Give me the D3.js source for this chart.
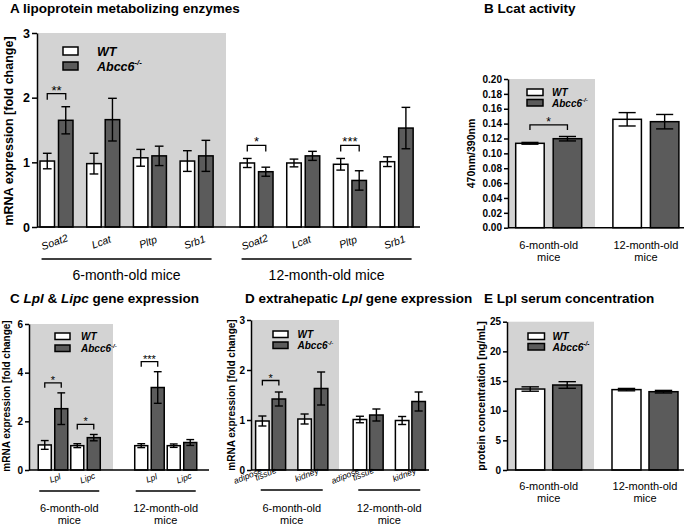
<!DOCTYPE html>
<html><head><meta charset="utf-8">
<script src="https://cdn.jsdelivr.net/npm/d3@7"></script>
<style>
body{margin:0;background:#fff;}
svg{display:block;font-family:"Liberation Sans",Arial,Helvetica,sans-serif;}
</style></head><body>
<svg id="c" width="685" height="526"></svg>
<script>
// ---------------- DATA ----------------
const seriesNames = ["WT", "Abcc6"];
const ages = ["6-month-old mice", "12-month-old mice"];
const ageLines = [["6-month-old", "mice"], ["12-month-old", "mice"]];

// Panel A: lipoprotein metabolizing enzymes (fold change)
const aGenes = ["Soat2", "Lcat", "Pltp", "Srb1"];
const aTicks = [0, 1, 2, 3];
const aWT6 = [1.02, 0.98, 1.07, 1.02];
const aWT6Err = [0.12, 0.16, 0.13, 0.16];
const aKO6 = [1.65, 1.66, 1.10, 1.10];
const aKO6Err = [0.21, 0.33, 0.15, 0.24];
const aWT12 = [0.99, 0.99, 0.97, 1.01];
const aWT12Err = [0.07, 0.06, 0.09, 0.075];
const aKO12 = [0.855, 1.10, 0.72, 1.53];
const aKO12Err = [0.07, 0.07, 0.15, 0.32];
const aSig = [{age: 0, gene: 0, label: "**"}, {age: 1, gene: 0, label: "*"}, {age: 1, gene: 2, label: "***"}];

// Panel B: Lcat activity (470nm/390nm)
const bGenes = ["Lcat"];
const bTicks = [0, 0.02, 0.04, 0.06, 0.08, 0.10, 0.12, 0.14, 0.16, 0.18, 0.20];
const bWT = [0.1135, 0.1458];
const bWTErr = [0.0012, 0.009];
const bKO = [0.1197, 0.1426];
const bKOErr = [0.003, 0.0097];
const bSig = [{age: 0, gene: 0, label: "*"}];

// Panel C: Lpl & Lipc gene expression
const cGenes = ["Lpl", "Lipc"];
const cTicks = [0, 2, 4, 6];
const cWT6 = [1.03, 1.00];
const cWT6Err = [0.18, 0.08];
const cKO6 = [2.52, 1.33];
const cKO6Err = [0.65, 0.13];
const cWT12 = [1.00, 1.00];
const cWT12Err = [0.08, 0.07];
const cKO12 = [3.39, 1.13];
const cKO12Err = [0.65, 0.12];
const cSig = [{age: 0, gene: 0, label: "*"}, {age: 0, gene: 1, label: "*"}, {age: 1, gene: 0, label: "***"}];

// Panel D: extrahepatic Lpl gene expression
const dGenes = ["adipose tissue", "kidney"];
const dTicks = [0, 1, 2, 3];
const dWT6 = [0.98, 1.02];
const dWT6Err = [0.10, 0.10];
const dKO6 = [1.42, 1.63];
const dKO6Err = [0.14, 0.33];
const dWT12 = [1.01, 0.99];
const dWT12Err = [0.065, 0.08];
const dKO12 = [1.10, 1.37];
const dKO12Err = [0.12, 0.19];
const dSig = [{age: 0, gene: 0, label: "*"}];

// Panel E: Lpl serum concentration (ng/mL)
const eGenes = ["Lpl"];
const eTicks = [0, 5, 10, 15, 20, 25];
const eWT = [13.65, 13.55];
const eWTErr = [0.37, 0.2];
const eKO = [14.33, 13.2];
const eKOErr = [0.56, 0.22];

// ---------------- DRAWING ----------------
const svg = d3.select("#c");
const BG = "#d3d3d3", KO_FILL = "#5b5b5b";

function drawPanel(p) {
  const g = svg.append("g");
  const y = d3.scaleLinear().domain(p.yDomain).range(p.yRange);
  const xAge = d3.scaleBand().domain(ages).range(p.ageRange).paddingInner(p.agePad);
  const xGene = d3.scaleBand().domain(p.genes).range([0, xAge.bandwidth()]);
  const sp = p.barW + p.gap;
  const xSer = d3.scaleBand().domain(seriesNames).range([0, xGene.bandwidth()])
    .paddingInner(p.gap / sp)
    .paddingOuter(((xGene.bandwidth() - 2 * p.barW - p.gap) / 2) / sp);

  // gray background for 6-month-old group
  g.append("rect").attr("x", p.axisX).attr("y", p.yRange[1])
    .attr("width", p.grayRight - p.axisX).attr("height", p.yRange[0] - p.yRange[1])
    .attr("fill", BG);

  const rows = [];
  ages.forEach((age, ai) => p.genes.forEach((gene, gi) => seriesNames.forEach((s, si) => {
    rows.push({ai, gi, si, age, gene, s, v: p.mean[si][ai][gi], e: p.err[si][ai][gi]});
  })));
  const bx = d => xAge(d.age) + xGene(d.gene) + xSer(d.s);
  const bw = xSer.bandwidth();
  const capW = bw * 0.6;

  g.selectAll("rect.bar").data(rows).join("rect").attr("class", "bar")
    .attr("x", bx).attr("width", bw)
    .attr("y", d => y(d.v)).attr("height", d => y(0) - y(d.v))
    .attr("fill", d => d.si === 0 ? "#ffffff" : KO_FILL)
    .attr("stroke", "#000").attr("stroke-width", 1.5);

  const eg = g.selectAll("g.err").data(rows).join("g").attr("class", "err")
    .attr("stroke", "#000").attr("stroke-width", 1.4);
  eg.append("line").attr("x1", d => bx(d) + bw / 2).attr("x2", d => bx(d) + bw / 2)
    .attr("y1", d => y(d.v + d.e)).attr("y2", d => y(d.v - d.e));
  eg.append("line").attr("x1", d => bx(d) + bw / 2 - capW / 2).attr("x2", d => bx(d) + bw / 2 + capW / 2)
    .attr("y1", d => y(d.v + d.e)).attr("y2", d => y(d.v + d.e));
  eg.append("line").attr("x1", d => bx(d) + bw / 2 - capW / 2).attr("x2", d => bx(d) + bw / 2 + capW / 2)
    .attr("y1", d => y(d.v - d.e)).attr("y2", d => y(d.v - d.e));

  // y axis
  const ax = g.append("g").attr("transform", `translate(${p.axisX},0)`)
    .call(d3.axisLeft(y).tickValues(p.ticks).tickFormat(p.fmt).tickSize(p.tickLen).tickSizeOuter(0).tickPadding(2));
  ax.select(".domain").attr("stroke-width", 1.5);
  ax.selectAll(".tick line").attr("stroke-width", 1.5);
  ax.selectAll(".tick text").attr("font-size", p.tickFont).attr("font-weight", "bold")
    .attr("fill", "#000").style("font-family", '"Liberation Sans",Arial,sans-serif');
  // x axis line
  g.append("line").attr("x1", p.axisX).attr("x2", p.axisEnd).attr("y1", y(0)).attr("y2", y(0))
    .attr("stroke", "#000").attr("stroke-width", 1.5);

  // y label
  g.append("text").attr("transform", `translate(${p.yLabel.x},${p.yLabel.y}) rotate(-90)`)
    .attr("text-anchor", "middle").attr("font-weight", "bold").attr("font-size", p.yLabel.size)
    .text(p.yLabel.text);

  // significance brackets
  (p.sig || []).forEach(s => {
    const wt = rows.find(r => r.ai === s.age && r.gi === s.gene && r.si === 0);
    const ko = rows.find(r => r.ai === s.age && r.gi === s.gene && r.si === 1);
    const yb = Math.min(y(wt.v + wt.e), y(ko.v + ko.e)) - p.sigOff;
    const x1 = bx(wt) + bw / 2, x2 = bx(ko) + bw / 2;
    g.append("path").attr("d", `M${x1},${yb + p.sigTick}V${yb}H${x2}V${yb + p.sigTick}`)
      .attr("fill", "none").attr("stroke", "#000").attr("stroke-width", 1.3);
    g.append("text").attr("x", (x1 + x2) / 2).attr("y", yb + 1).attr("text-anchor", "middle")
      .attr("font-size", p.sigFont).text(s.label);
  });

  // legend
  const L = p.legend;
  seriesNames.forEach((s, i) => {
    const yy = L.y + i * L.row;
    g.append("rect").attr("x", L.x).attr("y", yy).attr("width", L.w).attr("height", L.h)
      .attr("fill", i === 0 ? "#fff" : KO_FILL).attr("stroke", "#000").attr("stroke-width", 1.5);
    const t = g.append("text").attr("x", L.tx).attr("y", yy + L.h + 0.5)
      .attr("font-size", L.size).attr("font-weight", "bold").attr("font-style", "italic");
    if (i === 0) t.text(s);
    else {
      t.append("tspan").text(s);
      t.append("tspan").attr("font-size", L.size * 0.62).attr("dy", -L.size * 0.42).text("-/-");
    }
  });

  // gene labels
  if (p.geneLabel) {
    const GL = p.geneLabel;
    ages.forEach(age => p.genes.forEach(gene => {
      const cx = xAge(age) + xGene(gene) + xGene.bandwidth() / 2;
      if (GL.split && gene.includes(" ")) {
        const [w1, w2] = gene.split(" ");
        const gg = g.append("g").attr("transform", `translate(${cx + GL.splitDx},${GL.splitY}) rotate(${GL.rot})`)
          .attr("font-size", GL.size).attr("font-style", "italic").attr("fill", "#000");
        gg.append("text").attr("x", 0).attr("y", 0).text(w1);
        gg.append("text").attr("x", GL.w2dx).attr("y", GL.w2dy).text(w2);
      } else if (GL.split) {
        g.append("text").attr("transform", `translate(${cx + GL.dx},${GL.y}) rotate(${GL.rot})`)
          .attr("font-size", GL.size).attr("font-style", "italic").attr("fill", "#000").text(gene);
      } else {
        g.append("text").attr("transform", `translate(${cx + GL.dx},${GL.y}) rotate(${GL.rot})`)
          .attr("text-anchor", "middle").attr("dy", "0.35em").attr("fill", "#000")
          .attr("font-size", GL.size).attr("font-style", "italic").text(gene);
      }
    }));
  }

  // group labels
  const GR = p.group;
  ages.forEach((age, ai) => {
    const cx = xAge(age) + xAge.bandwidth() / 2;
    if (GR.uw) {
      g.append("line").attr("x1", cx - GR.uw / 2).attr("x2", cx + GR.uw / 2)
        .attr("y1", GR.uy).attr("y2", GR.uy).attr("stroke", "#000").attr("stroke-width", 1.5);
    }
    const lines = GR.oneLine ? [age] : ageLines[ai];
    lines.forEach((ln, li) => {
      g.append("text").attr("x", cx).attr("y", GR.ys[li]).attr("text-anchor", "middle")
        .attr("font-size", GR.size).text(ln);
    });
  });

  // title
  const T = g.append("text").attr("x", p.title.x).attr("y", p.title.y)
    .attr("font-size", 13.5).attr("font-weight", "bold");
  p.title.parts.forEach(([txt, it]) => {
    const ts = T.append("tspan").text(txt);
    if (it) ts.attr("font-style", "italic");
  });
}

// Panel A
drawPanel({
  genes: aGenes, yDomain: [0, 3], yRange: [227, 33], ticks: aTicks, fmt: d3.format("d"),
  tickFont: 12.5, tickLen: 5,
  axisX: 37, axisEnd: 420, grayRight: 226,
  ageRange: [33.15, 420], agePad: 0.066, barW: 14.5, gap: 4,
  mean: [[aWT6, aWT12], [aKO6, aKO12]], err: [[aWT6Err, aWT12Err], [aKO6Err, aKO12Err]],
  sig: aSig, sigOff: 13, sigTick: 6, sigFont: 13,
  yLabel: {x: 13, y: 131, size: 12.5, text: "mRNA expression [fold change]"},
  legend: {x: 63, y: 47, w: 15, h: 8, row: 15, tx: 97, size: 12.5},
  geneLabel: {dx: -2, y: 242, rot: -20, size: 10.5},
  group: {uw: 170, uy: 259, ys: [280], size: 14, oneLine: true},
  title: {x: 10, y: 13, parts: [["A lipoprotein metabolizing enzymes", false]]}
});

// Panel B
drawPanel({
  genes: bGenes, yDomain: [0, 0.2], yRange: [227.7, 79], ticks: bTicks, fmt: d3.format(".2f"),
  tickFont: 10, tickLen: 4,
  axisX: 508, axisEnd: 684, grayRight: 595,
  ageRange: [508.7, 685.9], agePad: 0.177, barW: 28.5, gap: 9,
  mean: [[[bWT[0]], [bWT[1]]], [[bKO[0]], [bKO[1]]]],
  err: [[[bWTErr[0]], [bWTErr[1]]], [[bKOErr[0]], [bKOErr[1]]]],
  sig: bSig, sigOff: 11.5, sigTick: 5, sigFont: 12,
  yLabel: {x: 475, y: 153.5, size: 10.5, text: "470nm/390nm"},
  legend: {x: 527, y: 89, w: 16, h: 6.5, row: 10.5, tx: 552, size: 10},
  group: {ys: [249, 261], size: 11},
  title: {x: 484, y: 13, parts: [["B Lcat activity", false]]}
});

// Panel C
drawPanel({
  genes: cGenes, yDomain: [0, 6], yRange: [470, 324], ticks: cTicks, fmt: d3.format("d"),
  tickFont: 10, tickLen: 4,
  axisX: 29, axisEnd: 209, grayRight: 113,
  ageRange: [36.75, 198.25], agePad: 0.326, barW: 13, gap: 3.5,
  mean: [[cWT6, cWT12], [cKO6, cKO12]], err: [[cWT6Err, cWT12Err], [cKO6Err, cKO12Err]],
  sig: cSig, sigOff: 10, sigTick: 5, sigFont: 11,
  yLabel: {x: 10, y: 396, size: 10, text: "mRNA expression [fold change]"},
  legend: {x: 55, y: 333, w: 15, h: 6.5, row: 12, tx: 81, size: 10},
  geneLabel: {dx: 2, y: 478, rot: -20, size: 8.5},
  group: {uw: 60, uy: 491, ys: [512, 524], size: 11},
  title: {x: 10, y: 303, parts: [["C ", false], ["Lpl", true], [" & ", false], ["Lipc", true], [" gene expression", false]]}
});

// Panel D
drawPanel({
  genes: dGenes, yDomain: [0, 3], yRange: [470, 320], ticks: dTicks, fmt: d3.format("d"),
  tickFont: 10, tickLen: 4,
  axisX: 251, axisEnd: 429, grayRight: 339,
  ageRange: [249.5, 431.5], agePad: 0.134, barW: 13.5, gap: 3,
  mean: [[dWT6, dWT12], [dKO6, dKO12]], err: [[dWT6Err, dWT12Err], [dKO6Err, dKO12Err]],
  sig: dSig, sigOff: 11.5, sigTick: 5, sigFont: 11,
  yLabel: {x: 235, y: 395, size: 10, text: "mRNA expression [fold change]"},
  legend: {x: 273, y: 331, w: 15, h: 6.5, row: 11, tx: 297.5, size: 10},
  geneLabel: {split: true, splitDx: -35.5, splitY: 484, w2dx: 21, w2dy: 5, dx: -16.5, y: 482, rot: -22, size: 8.5},
  group: {uw: 62, uy: 490, ys: [512, 524], size: 11},
  title: {x: 245, y: 303, parts: [["D extrahepatic ", false], ["Lpl", true], [" gene expression", false]]}
});

// Panel E
drawPanel({
  genes: eGenes, yDomain: [0, 25], yRange: [470, 321.7], ticks: eTicks, fmt: d3.format("d"),
  tickFont: 10, tickLen: 4,
  axisX: 507, axisEnd: 684, grayRight: 594,
  ageRange: [508.7, 685], agePad: 0.169, barW: 29, gap: 8,
  mean: [[[eWT[0]], [eWT[1]]], [[eKO[0]], [eKO[1]]]],
  err: [[[eWTErr[0]], [eWTErr[1]]], [[eKOErr[0]], [eKOErr[1]]]],
  sig: [], sigOff: 10, sigTick: 5, sigFont: 11,
  yLabel: {x: 485, y: 396, size: 10.5, text: "protein concentration [ng/mL]"},
  legend: {x: 528, y: 333, w: 16.5, h: 6.5, row: 10.5, tx: 552.5, size: 10.3},
  group: {ys: [490, 502], size: 11},
  title: {x: 484, y: 303, parts: [["E Lpl serum concentration", false]]}
});
</script>
</body></html>
